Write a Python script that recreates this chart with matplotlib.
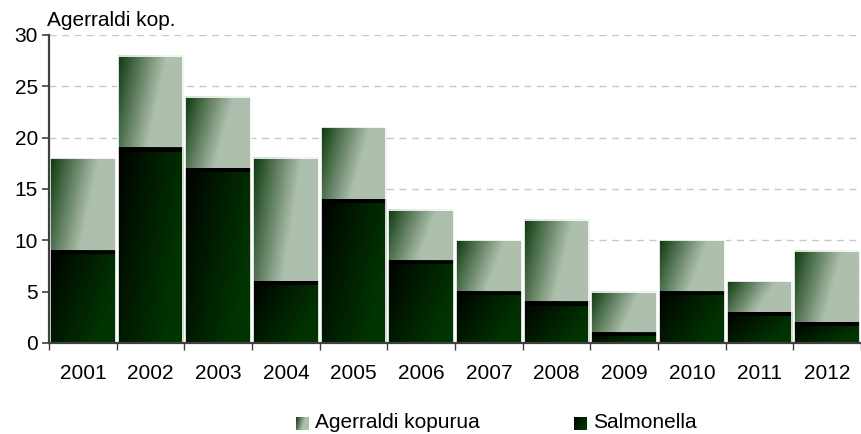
import numpy as np
import matplotlib
matplotlib.use("Agg")
import matplotlib.pyplot as plt
from matplotlib.patches import Rectangle
from matplotlib.ticker import MultipleLocator

plt.rcParams['font.family'] = ['Liberation Sans', 'DejaVu Sans']

years = ['2001', '2002', '2003', '2004', '2005', '2006', '2007', '2008', '2009', '2010', '2011', '2012']
total = [18, 28, 24, 18, 21, 13, 10, 12, 5, 10, 6, 9]
salmonella = [9, 19, 17, 6, 14, 8, 5, 4, 1, 5, 3, 2]
series_names = ['Agerraldi kopurua', 'Salmonella']
y_title = 'Agerraldi kop.'

dark_top = np.array([0x0c, 0x3a, 0x0c]) / 255
light_top = np.array([0xae, 0xbf, 0xae]) / 255
dark_sal = np.array([0x00, 0x00, 0x00]) / 255
light_sal = np.array([0x00, 0x34, 0x00]) / 255


def grad_img(c0, c1, wx, wy, scale, gamma=1.0, n=80):
    xs = np.linspace(0, 1, n)
    ys = np.linspace(0, 1, n)
    X, Y = np.meshgrid(xs, ys)
    t = np.clip((wx * X + wy * Y) / scale, 0, 1) ** gamma
    return c0[None, None, :] * (1 - t[..., None]) + c1[None, None, :] * t[..., None]


fig = plt.figure(figsize=(8.61, 4.34), dpi=100)
ax = fig.add_axes([49 / 861, 91 / 434, 812 / 861, 308 / 434])

img_top = grad_img(dark_top, light_top, 1.0, 0.3, 0.75, gamma=1.0)
img_sal = grad_img(dark_sal, light_sal, 1.0, 0.5, 1.2, gamma=0.9)

w = 0.97
x = np.arange(len(years))
for i in x:
    l, r = i - w / 2, i + w / 2
    # upper segment (total); row 0 (dark) at the top-left
    ax.imshow(img_top, extent=[l, r, salmonella[i], total[i]], origin='upper',
              aspect='auto', interpolation='bilinear', zorder=2)
    # salmonella segment
    ax.imshow(img_sal, extent=[l, r, 0, salmonella[i]], origin='upper',
              aspect='auto', interpolation='bilinear', zorder=2)
    ax.add_patch(Rectangle((l, salmonella[i] - 0.35), w, 0.35, facecolor='black',
                           edgecolor='none', zorder=3))
bars = ax.bar(x, total, width=w, facecolor='none', edgecolor='white', linewidth=1.2, zorder=4)

ax.set_xlim(-0.5, 11.5)
ax.set_ylim(0, 30)
ax.set_yticks(range(0, 31, 5))
ax.yaxis.grid(True, linestyle=(0, (5, 4)), color='#c8c8c8', linewidth=1)
ax.set_axisbelow(True)
ax.set_xticks(x)
ax.set_xticklabels(years)
ax.xaxis.set_minor_locator(MultipleLocator(1, offset=0.5))
ax.tick_params(axis='x', which='major', length=0, pad=15, labelsize=15)
ax.tick_params(axis='x', which='minor', length=5, width=1, color='#404040', direction='out')
ax.tick_params(axis='y', length=5, width=1.2, color='#404040', pad=3, labelsize=15)
for s in ['top', 'right']:
    ax.spines[s].set_visible(False)
for s in ['left', 'bottom']:
    ax.spines[s].set_color('#404040')
    ax.spines[s].set_linewidth(1.6)
    ax.spines[s].set_zorder(5)

fig.text(47 / 861, 1 - 21 / 434, y_title, fontsize=15, va='center', ha='left')

# legend
for (sx, img, name) in [(296, img_top, series_names[0]), (574, img_sal, series_names[1])]:
    lax = fig.add_axes([sx / 861, 1 - 430 / 434, 13 / 861, 13 / 434])
    lax.imshow(img, extent=[0, 1, 0, 1], aspect='auto', interpolation='bilinear')
    lax.axis('off')
    fig.text((sx + 19) / 861, 1 - 423 / 434, name, fontsize=15, va='center', ha='left')

fig.savefig('out.png', dpi=100)
